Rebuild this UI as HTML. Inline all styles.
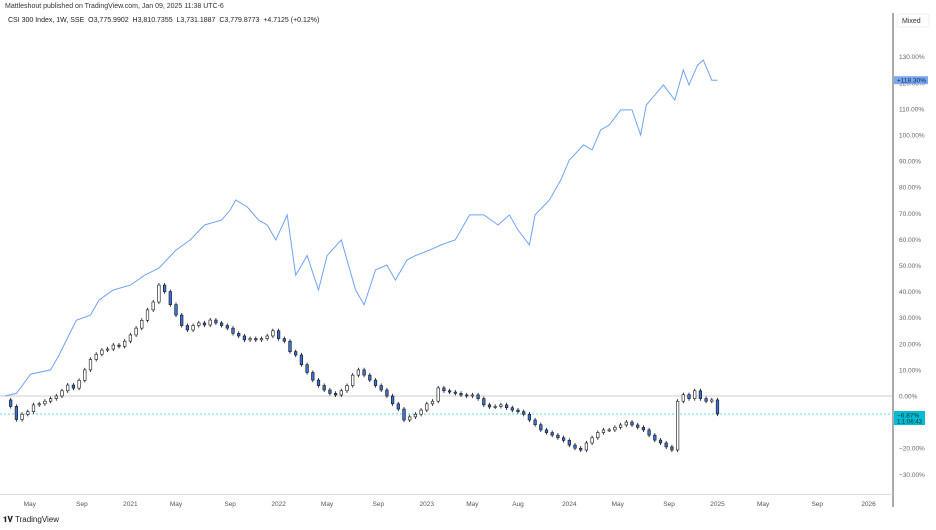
<!DOCTYPE html>
<html><head><meta charset="utf-8"><style>
body{margin:0;background:#fff;font-family:"Liberation Sans",sans-serif;}
#wrap{position:relative;width:936px;height:530px;overflow:hidden;background:#fff}
.t{position:absolute;font-size:7px;color:#555;white-space:nowrap}
</style></head><body>
<div id="wrap">
<div class="t" style="left:5px;top:3px;font-size:7px;color:#333">Mattleshout published on TradingView.com, Jan 09, 2025 11:38 UTC-6</div>
<div class="t" style="left:8px;top:17px;color:#222">CSI 300 Index, 1W, SSE &nbsp;O3,775.9902 &nbsp;H3,810.7355 &nbsp;L3,731.1887 &nbsp;C3,779.8773 &nbsp;+4.7125 (+0.12%)</div>
<div class="t" style="left:3px;top:515px;font-size:8px;color:#222;font-weight:bold">𝟏𝐕 <span style="font-weight:normal">TradingView</span></div>
<svg id="svg" width="936" height="530" style="position:absolute;left:0;top:0"></svg>
</div>
<script>
const yTicks=[130,120,110,100,90,80,70,60,50,40,30,20,10,0,-20,-30];
const xLabels=["May","Sep","2021","May","Sep","2022","May","Sep","2023","May","Aug","2024","May","Sep","2025","May","Sep","2026"];
const xLabelWeeks=[8.7,27,44,60,79,96,113,131,148,164,180,198,215,233,250,266,285,303];
// CSI 300 closes (% change), one value every 2 weeks starting Jan 2020
const candleClose=[-1.5,-4,-9,-7,-6,-3.4,-3,-2,-1,0,2,4.2,3,6,10,14,16,17.6,18,19.5,19,
21,23.4,26,29,33,36,42.5,40,35,31,
27,25.3,27,28,27.2,29.1,28,27,26,24,23,21.5,22,21.5,22,23,25,22,21,17,
15.7,12,9,6.1,4,2.3,1,0.4,2,4,8,10,8,6.1,4,2.3,0,-3,-5,-9.2,
-8,-7,-5.4,-3,-2,3.1,2,1.5,1,0.4,0,0.4,-1,-3.4,-4.2,-4,-3.4,-4.5,-5.4,-6,
-7,-9.2,-11,-13,-14,-15,-16,-17,-18.8,-20,-20.7,-18,-16,-14,-13,-13,-12,-11.1,-10,-11.1,
-12,-13,-15,-16.9,-18,-19.5,-20.7,-2,0.5,-1,2,-1,-2,-1.5,-6.9];
const weeksPerCandle=2;
// Comparison series (blue line, % change)
const lineWeeks=[0,4,9,16,19,25,30,33,38,44,49,54,60,65,70,76,79,81,85,89,92,95,99,102,106,110,113,118,123,126,130,134,137,141,144,149,153,158,163,168,173,177,180,184,186,191,195,198,203,206,209,212,216,220,223,225,228,231,235,238,240,243,245,248,250];
const lineVals=[0,1,8.4,10,15.7,29,31,36.8,40.6,42.5,46.3,49,55.9,59.8,65.5,67.4,71.3,75.1,72.4,67.4,65.5,59.8,69.4,46.3,53.8,40.6,53.8,59.8,40.6,34.9,48.3,50.2,44.4,52.1,53.8,55.9,57.9,59.8,69.4,69.4,65.5,69.4,63.6,57.9,69.4,75.1,82.8,90.4,96.2,94.3,101.9,103.8,109.6,109.6,100,111.5,115.3,119.2,113.4,124.9,119.2,126.8,128.7,121,121];
const NS="http://www.w3.org/2000/svg";
const svg=document.getElementById('svg');
const X=w=>5+w*2.85;
const Y=v=>396-v*2.61;
function mk(tag,attrs,parent){const e=document.createElementNS(NS,tag);for(const k in attrs)e.setAttribute(k,attrs[k]);(parent||svg).appendChild(e);return e;}
const ax=mk('line',{x1:893,y1:13,x2:893,y2:507,stroke:'#555','stroke-width':1});


const bx=mk('line',{x1:0,y1:494.5,x2:893,y2:494.5,stroke:'#ddd','stroke-width':1});


const mx=mk('rect',{x:897,y:14,width:32,height:13,fill:'#fff',stroke:'#eee',rx:2});


const mt=mk('text',{x:902,y:23,'font-size':7,fill:'#333','font-family':'Liberation Sans'});mt.textContent='Mixed';


yTicks.forEach(v=>{const t=mk('text',{x:899,y:Y(v)+2.5,'font-size':6.5,fill:'#666','font-family':'Liberation Sans'});t.textContent=(v<0?'\u2212'+(-v):v)+'.00%';

});
xLabels.forEach((s,i)=>{const t=mk('text',{x:X(xLabelWeeks[i]),y:506,'font-size':6.5,fill:'#555','text-anchor':'middle','font-family':'Liberation Sans'});t.textContent=s;

});
const zl=mk('line',{x1:0,y1:Y(0),x2:893,y2:Y(0),stroke:'#bbb','stroke-width':0.8});


const lastC=candleClose[candleClose.length-1];
const pl=mk('line',{x1:0,y1:Y(lastC),x2:893,y2:Y(lastC),stroke:'#26c6da','stroke-width':0.8,'stroke-dasharray':'2,2'});


for(let i=1;i<candleClose.length;i++){
 const o=candleClose[i-1],c=candleClose[i],x=X(i*weeksPerCandle);
 const hi=Math.max(o,c)+0.8,lo=Math.min(o,c)-0.8;
 const g=mk('g',{});
 
 
 mk('line',{x1:x,y1:Y(hi),x2:x,y2:Y(lo),stroke:'#111','stroke-width':0.8},g);
 const top=Y(Math.max(o,c)),h=Math.max(1,Math.abs(Y(o)-Y(c)));
 mk('rect',{x:x-1.3,y:top,width:2.6,height:h,fill:c>=o?'#fff':'#3a6fd8',stroke:'#111','stroke-width':0.6},g);
}
let d='';lineWeeks.forEach((w,i)=>{d+=(i?'L':'M')+X(w).toFixed(1)+','+Y(lineVals[i]).toFixed(1);});
const ln=mk('path',{d:d,fill:'none',stroke:'#6fa3f7','stroke-width':1});


const lastL=lineVals[lineVals.length-1];
const b1=mk('rect',{x:894,y:Y(lastL)-4,width:34,height:8,fill:'#7aa8f5'});


const bt1=mk('text',{x:897,y:Y(lastL)+2.5,'font-size':6.5,fill:'#123','font-family':'Liberation Sans'});bt1.textContent='+118.30%';


const b2=mk('rect',{x:894,y:Y(lastC)-3,width:31,height:14,fill:'#00bcd4'});


const bt2=mk('text',{x:897,y:Y(lastC)+3.5,'font-size':6.5,fill:'#033','font-family':'Liberation Sans'});bt2.textContent='\u22126.87%';


const bt3=mk('text',{x:897,y:Y(lastC)+9.5,'font-size':6,fill:'#033','font-family':'Liberation Sans'});bt3.textContent='1:1:06:43';


</script>
</body></html>
